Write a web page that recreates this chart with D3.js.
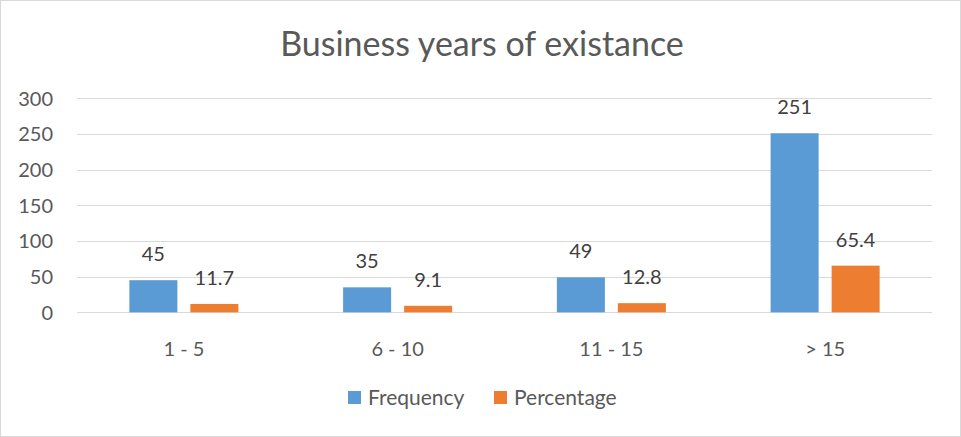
<!DOCTYPE html>
<html><head><meta charset="utf-8">
<script src="https://cdn.jsdelivr.net/npm/d3@7"></script>
<style>body{margin:0;background:#fff;}svg{display:block;}</style>
</head><body>
<script>
const categories = ["1 - 5", "6 - 10", "11 - 15", "> 15"];
const seriesNames = ["Frequency", "Percentage"];
const frequency = [45, 35, 49, 251];
const percentage = [11.7, 9.1, 12.8, 65.4];
const yTicks = [0, 50, 100, 150, 200, 250, 300];
const colors = ["#5B9BD5", "#ED7D31"];
const title = "Business years of existance";

(function () {
const W = 961, H = 437;
const font = "Lato, 'Open Sans', sans-serif";
const svg = d3.select("body").append("svg").attr("width", W).attr("height", H);
svg.append("rect").attr("x", 0.5).attr("y", 0.5).attr("width", W - 1).attr("height", H - 1)
  .attr("fill", "#fff").attr("stroke", "#D9D9D9");

const pLeft = 77, pRight = 932, pTop = 98.3, pBottom = 312.3;
const y = d3.scaleLinear().domain([0, 300]).range([pBottom, pTop]);
const x0 = d3.scaleBand().domain(categories).range([pLeft, pRight]).paddingInner(0.49).paddingOuter(0.245);
const x1 = d3.scaleBand().domain(seriesNames).range([0, x0.bandwidth()]).paddingInner(0.213);

svg.append("g").selectAll("line").data(yTicks).join("line")
  .attr("x1", pLeft).attr("x2", pRight)
  .attr("y1", d => Math.round(y(d)) + 0.5).attr("y2", d => Math.round(y(d)) + 0.5)
  .attr("stroke", "#D9D9D9").attr("stroke-width", 1);

const yAxis = d3.axisLeft(y).tickValues(yTicks).tickSize(0).tickPadding(0);
const gy = svg.append("g").attr("transform", `translate(53,0)`).call(yAxis);
gy.select(".domain").remove();
gy.selectAll("text").attr("font-family", font).attr("font-size", 20).attr("fill", "#595959").attr("dy", "0.35em");

const xAxis = d3.axisBottom(x0).tickSize(0).tickPadding(0);
const gx = svg.append("g").attr("transform", `translate(0,${pBottom + 37})`).call(xAxis);
gx.select(".domain").remove();
gx.selectAll("text").attr("font-family", font).attr("font-size", 20).attr("fill", "#595959").attr("dy", "0.35em");

const seriesData = [frequency, percentage];
const rows = categories.map((c, i) => seriesNames.map((s, j) => ({cat: c, s, j, v: seriesData[j][i]})));

const groups = svg.append("g").selectAll("g").data(rows).join("g")
  .attr("transform", d => `translate(${x0(d[0].cat)},0)`);
groups.selectAll("rect").data(d => d).join("rect")
  .attr("x", d => x1(d.s)).attr("width", x1.bandwidth())
  .attr("y", d => y(d.v)).attr("height", d => pBottom - y(d.v))
  .attr("fill", d => colors[d.j]);
groups.selectAll("text").data(d => d).join("text")
  .attr("x", d => x1(d.s) + x1.bandwidth() / 2)
  .attr("y", d => y(d.v) - 19)
  .attr("text-anchor", "middle")
  .attr("font-family", font).attr("font-size", 20).attr("fill", "#404040")
  .text(d => d.v);

svg.append("text").attr("x", 482).attr("y", 56).attr("text-anchor", "middle")
  .attr("font-family", font).attr("font-size", 34).attr("fill", "#595959").text(title);

const legendX = [348, 494];
const lg = svg.append("g").selectAll("g").data(seriesNames).join("g")
  .attr("transform", (d, i) => `translate(${legendX[i]},391)`);
lg.append("rect").attr("width", 13).attr("height", 13).attr("fill", (d, i) => colors[i]);
lg.append("text").attr("x", 20).attr("y", 6.5).attr("dy", "0.35em")
  .attr("font-family", font).attr("font-size", 21).attr("fill", "#595959").text(d => d);
})();
</script>
</body></html>
